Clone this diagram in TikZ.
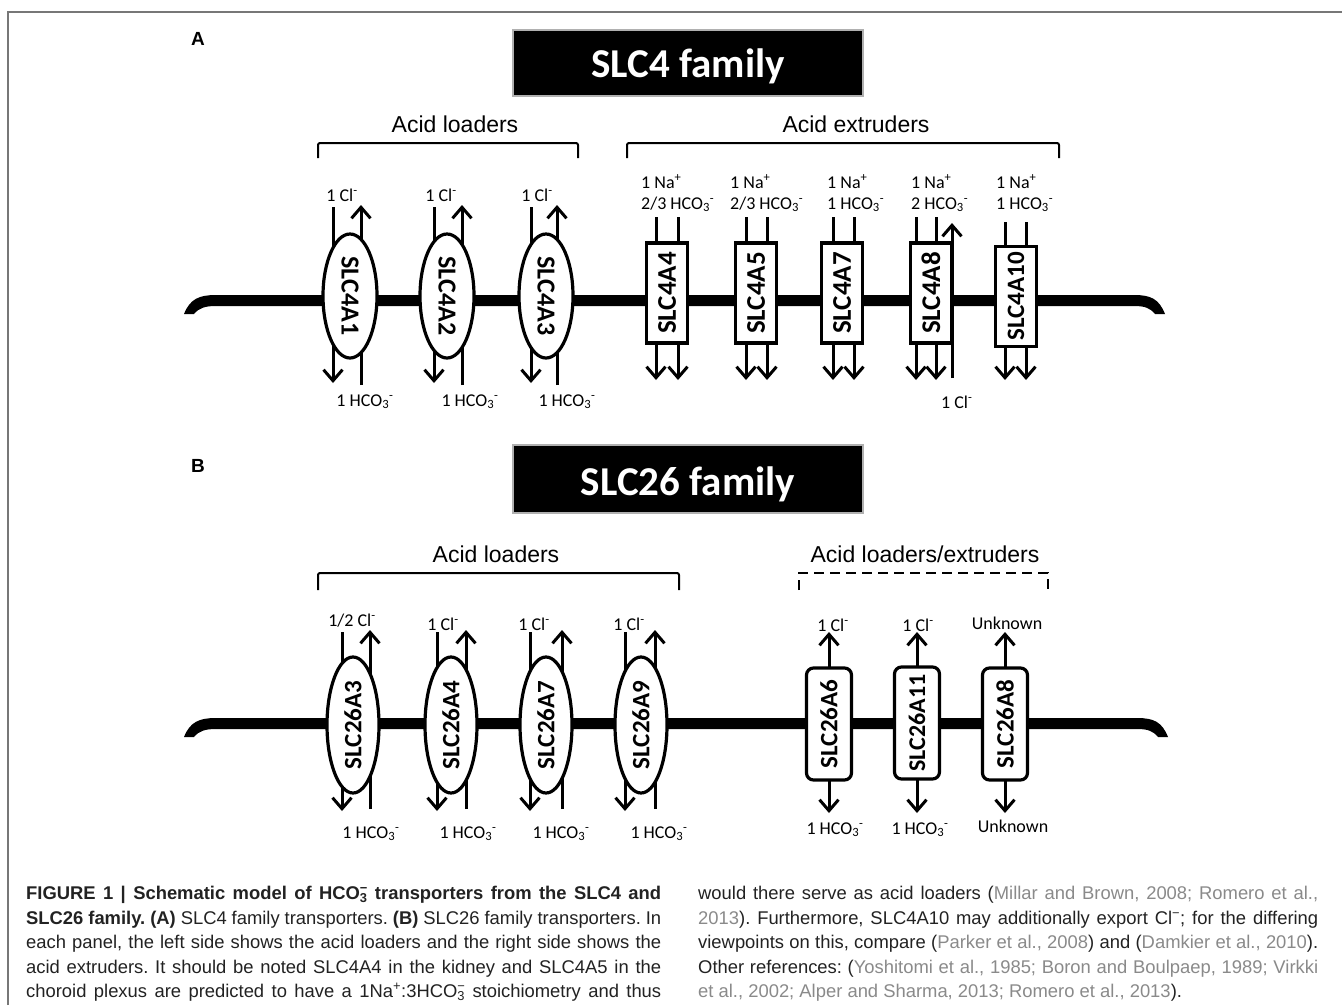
\documentclass[tikz,border=0pt]{standalone}
\usepackage{fontspec}
\setmainfont{Carlito}
\newfontfamily\arialf{Liberation Sans}
\newfontfamily\capf{Liberation Sans}
\usetikzlibrary{arrows.meta,shapes.geometric}
\frenchspacing
\definecolor{framegray}{HTML}{777777}
\definecolor{boxedge}{HTML}{B0B0B0}
\definecolor{citegray}{HTML}{8A8A8A}
\definecolor{captext}{HTML}{222222}
\newcommand{\cg}[1]{\textcolor{citegray}{#1}}
\newcommand{\hco}{HCO\textsubscript{3}\textsuperscript{-}}
\newcommand{\chl}{Cl\textsuperscript{-}}
\newcommand{\hcocap}{HCO\rlap{\textsuperscript{−}}\textsubscript{3}}
\newcommand{\capL}[1]{\makebox[635pt][s]{#1}}
\newcommand{\capR}[1]{\makebox[620pt][s]{#1}}
\begin{document}
\begin{tikzpicture}[x=1pt,y=-1pt,
  ion/.style={font=\fontsize{18}{20}\selectfont, inner sep=0pt, anchor=base},
  ionw/.style={font=\fontsize{18}{20}\selectfont, inner sep=0pt, anchor=base west},
  flux/.style={line width=3pt, -{Straight Barb[length=11pt,width=19pt]}},
  ellA/.style={ellipse, draw, fill=white, line width=3.2pt, minimum width=124pt, minimum height=54pt, inner sep=0pt, rotate=-90, font=\fontsize{26}{26}\selectfont\bfseries},
  ellB/.style={ellipse, draw, fill=white, line width=3.2pt, minimum width=136pt, minimum height=52pt, inner sep=0pt, rotate=90, font=\fontsize{25}{25}\selectfont\bfseries},
  boxA/.style={rectangle, draw, fill=white, line width=3.2pt, minimum width=100pt, minimum height=41pt, inner sep=0pt, rotate=90, font=\fontsize{27}{27}\selectfont\bfseries},
  boxB/.style={rectangle, rounded corners=7pt, draw, fill=white, line width=3.2pt, minimum width=112pt, minimum height=45pt, inner sep=0pt, rotate=90, font=\fontsize{25}{25}\selectfont\bfseries},
  group/.style={font=\arialf\fontsize{23}{23}\selectfont, anchor=base, inner sep=0pt},
  bracket/.style={line width=2pt, rounded corners=2pt},
  titlebox/.style={fill=black, draw=boxedge, line width=1.5pt, minimum width=350pt, minimum height=66pt, inner sep=0pt},
  titletext/.style={text=white, font=\fontsize{41}{41}\selectfont\bfseries, anchor=base, inner sep=0pt},
  panel/.style={font=\arialf\bfseries\fontsize{19}{19}\selectfont, anchor=base, inner sep=0pt},
  capline/.style={font=\capf\fontsize{18.4}{18.4}\selectfont, text=captext, anchor=base west, inner sep=0pt}
]
\useasboundingbox (0,0) rectangle (1342,1005);
\fill[white] (0,0) rectangle (1342,1005);
% frame
\draw[framegray, line width=2pt] (8,1005) -- (8,12) -- (1342,12);

% ---------------- Panel A ----------------
\node[panel] (pA) at (198,45) {A};
\node[titlebox] (t4box) at (688,63) {};
\node[titletext] (t4) at (688,77) {SLC4 family};
\node[group] (gl4) at (455,132) {Acid loaders};
\node[group] (ge4) at (856,132) {Acid extruders};
\draw[bracket] (318,158) -- (318,143) -- (578,143) -- (578,158);
\draw[bracket] (627,158) -- (627,143) -- (1059,143) -- (1059,158);

% membrane A
\fill (184,314) .. controls (190,299) and (199,295) .. (216,295) -- (1134,295)
  .. controls (1151,295) and (1159,299) .. (1165,314) -- (1155,314)
  .. controls (1150,308) and (1145,306) .. (1134,306) -- (216,306)
  .. controls (205,306) and (199,308) .. (194,314) -- cycle;

% ellipse transporters (A)
\foreach \i/\xd/\xu in {1/333/361, 2/434/462, 3/531/557} {
  \coordinate (a\i-dt) at (\xd,207);
  \coordinate (a\i-db) at (\xd,383);
  \coordinate (a\i-ub) at (\xu,385);
  \coordinate (a\i-ut) at (\xu,205);
  \draw[flux] (a\i-dt) -- (a\i-db);
  \draw[flux] (a\i-ub) -- (a\i-ut);
}
% box transporters (A)
\foreach \i/\xa/\xb/\yt in {4/656/678/217, 5/746/767/217, 7/833/854/217, 8/916/936/217, 10/1005/1026/222} {
  \coordinate (b\i-at) at (\xa,\yt);
  \coordinate (b\i-ab) at (\xa,380);
  \coordinate (b\i-bt) at (\xb,\yt);
  \coordinate (b\i-bb) at (\xb,380);
  \draw[flux] (b\i-at) -- (b\i-ab);
  \draw[flux] (b\i-bt) -- (b\i-bb);
}
\coordinate (b8-cb) at (952,378);
\coordinate (b8-ct) at (952,223);
\draw[flux] (b8-cb) -- (b8-ct);

\node[ellA] (SLC4A1) at (350,296) {SLC4A1};
\node[ellA] (SLC4A2) at (447,296) {SLC4A2};
\node[ellA] (SLC4A3) at (546,296) {SLC4A3};
\node[boxA] (SLC4A4) at (667,293) {SLC4A4};
\node[boxA] (SLC4A5) at (756,293) {SLC4A5};
\node[boxA] (SLC4A7) at (842,293) {SLC4A7};
\node[boxA] (SLC4A8) at (931,293) {SLC4A8};
\node[boxA, font=\fontsize{25}{25}\selectfont\bfseries] (SLC4A10) at (1016,296.5) {SLC4A10};

% ion labels (A)
\node[ion] (l1a) at (342,201) {1 \chl};
\node[ion] (l2a) at (441,201) {1 \chl};
\node[ion] (l3a) at (537,201) {1 \chl};
\node[ion] (l1b) at (365,406) {1 \hco};
\node[ion] (l2b) at (470,406) {1 \hco};
\node[ion] (l3b) at (567,406) {1 \hco};
\node[ionw] (l4a) at (641,188) {1 Na\textsuperscript{+}};
\node[ionw] (l4b) at (641,209) {2/3 \hco};
\node[ionw] (l5a) at (730,188) {1 Na\textsuperscript{+}};
\node[ionw] (l5b) at (730,209) {2/3 \hco};
\node[ionw] (l7a) at (827,188) {1 Na\textsuperscript{+}};
\node[ionw] (l7b) at (827,209) {1 \hco};
\node[ionw] (l8a) at (911,188) {1 Na\textsuperscript{+}};
\node[ionw] (l8b) at (911,209) {2 \hco};
\node[ionw] (l8c) at (941,408) {1 \chl};
\node[ionw] (l10a) at (996,188) {1 Na\textsuperscript{+}};
\node[ionw] (l10b) at (996,209) {1 \hco};

% ---------------- Panel B ----------------
\node[panel] (pB) at (198,472) {B};
\node[titlebox, minimum height=68pt] (t26box) at (688,479) {};
\node[titletext] (t26) at (688,495) {SLC26 family};
\node[group] (gl26) at (496,562) {Acid loaders};
\node[group] (ge26) at (925,562) {Acid loaders/extruders};
\draw[bracket] (318,590) -- (318,573) -- (679,573) -- (679,590);
\draw[line width=2pt, dash pattern=on 10pt off 6pt] (799,590) -- (799,573) -- (1048,573) -- (1048,590);

% membrane B
\fill (184,737) .. controls (190,722) and (199,718) .. (216,718) -- (1137,718)
  .. controls (1154,718) and (1162,722) .. (1168,737) -- (1158,737)
  .. controls (1153,731) and (1148,729) .. (1137,729) -- (216,729)
  .. controls (205,729) and (199,731) .. (194,737) -- cycle;

\foreach \i/\xd/\xu in {3/342/370, 4/437/466, 7/530/562, 9/625/655} {
  \coordinate (c\i-dt) at (\xd,632);
  \coordinate (c\i-db) at (\xd,811);
  \coordinate (c\i-ub) at (\xu,809);
  \coordinate (c\i-ut) at (\xu,630);
  \draw[flux] (c\i-dt) -- (c\i-db);
  \draw[flux] (c\i-ub) -- (c\i-ut);
}
\foreach \i/\x in {6/829, 11/917, 8/1005} {
  \coordinate (d\i-m) at (\x,724);
  \coordinate (d\i-t) at (\x,632);
  \coordinate (d\i-b) at (\x,813);
  \draw[flux] (d\i-m) -- (d\i-t);
  \draw[flux] (d\i-m) -- (d\i-b);
}

\node[ellB] (SLC26A3) at (353,725) {SLC26A3};
\node[ellB] (SLC26A4) at (451,725) {SLC26A4};
\node[ellB] (SLC26A7) at (546,725) {SLC26A7};
\node[ellB] (SLC26A9) at (641,725) {SLC26A9};
\node[boxB] (SLC26A6) at (829,724) {SLC26A6};
\node[boxB, font=\fontsize{24}{24}\selectfont\bfseries] (SLC26A11) at (917,723) {SLC26A11};
\node[boxB] (SLC26A8) at (1005,724) {SLC26A8};

\node[ion] (m3a) at (352,626) {1/2 \chl};
\node[ion] (m4a) at (443,630) {1 \chl};
\node[ion] (m7a) at (534,630) {1 \chl};
\node[ion] (m9a) at (629,630) {1 \chl};
\node[ion] (m3b) at (371,838) {1 \hco};
\node[ion] (m4b) at (468,838) {1 \hco};
\node[ion] (m7b) at (561,838) {1 \hco};
\node[ion] (m9b) at (659,838) {1 \hco};
\node[ion] (m6a) at (833,631) {1 \chl};
\node[ion] (m11a) at (918,631) {1 \chl};
\node[ion] (m8a) at (1007,629) {Unknown};
\node[ion] (m6b) at (835,834) {1 \hco};
\node[ion] (m11b) at (920,834) {1 \hco};
\node[ion] (m8b) at (1013,832) {Unknown};

% ---------------- Caption ----------------
\node[capline] (cap1) at (26,899) {\capL{\bfseries FIGURE 1 | Schematic model of \hcocap\ transporters from the SLC4 and}};
\node[capline] (cap2) at (26,924) {\capL{{\bfseries SLC26 family. (A)} SLC4 family transporters. {\bfseries (B)} SLC26 family transporters. In}};
\node[capline] (cap3) at (26,948) {\capL{each panel, the left side shows the acid loaders and the right side shows the}};
\node[capline] (cap4) at (26,973) {\capL{acid extruders. It should be noted SLC4A4 in the kidney and SLC4A5 in the}};
\node[capline] (cap5) at (26,997) {\capL{choroid plexus are predicted to have a 1Na\textsuperscript{+}:3\hcocap\ stoichiometry and thus}};
\node[capline] (cap6) at (698,899) {\capR{would there serve as acid loaders (\cg{Millar and Brown, 2008; Romero et al.,}}};
\node[capline] (cap7) at (698,924) {\capR{\cg{2013}). Furthermore, SLC4A10 may additionally export Cl\textsuperscript{−}; for the differing}};
\node[capline] (cap8) at (698,948) {\capR{viewpoints on this, compare (\cg{Parker et al., 2008}) and (\cg{Damkier et al., 2010}).}};
\node[capline] (cap9) at (698,973) {\capR{Other references: (\cg{Yoshitomi et al., 1985; Boron and Boulpaep, 1989; Virkki}}};
\node[capline] (cap10) at (698,997) {\cg{et al., 2002; Alper and Sharma, 2013; Romero et al., 2013}).};
\end{tikzpicture}
\end{document}
